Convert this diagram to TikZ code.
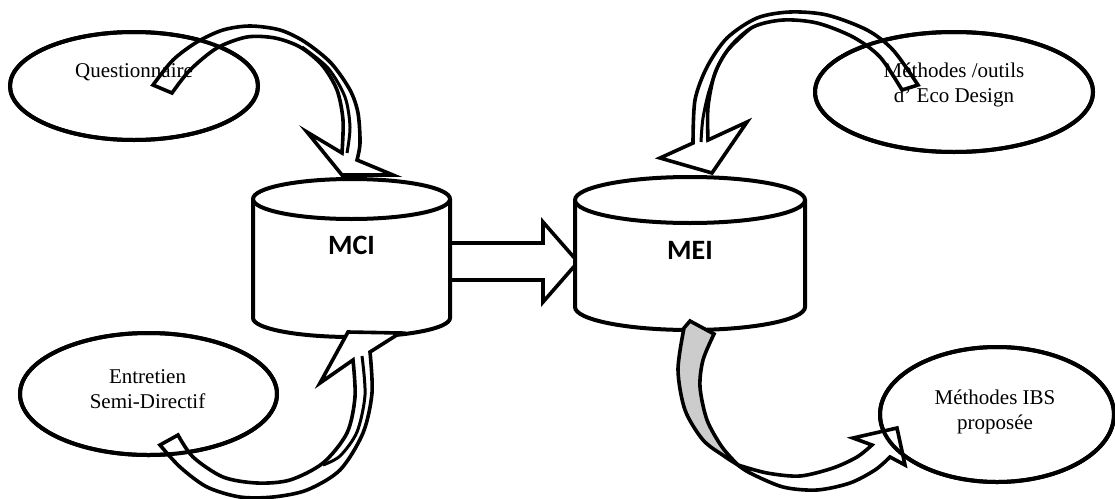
\documentclass[tikz,border=0pt]{standalone}
\usepackage{fontspec}
\setmainfont{Liberation Serif}
\newfontfamily\calibri{Carlito}
\usetikzlibrary{shapes.geometric}
\begin{document}
\begin{tikzpicture}[x=1pt,y=1pt,
  bub/.style={ellipse, draw, line width=4pt, fill=white, inner sep=0pt},
  rim/.style={line width=4pt},
  lbl/.style={font=\fontsize{21}{25}\selectfont, align=center, inner sep=0pt},
  cyltxt/.style={font=\calibri\bfseries\fontsize{28}{30}\selectfont, inner sep=0pt},
  cylbody/.style={draw, fill=white, line width=4pt},
  blk/.style={draw, line width=3.6pt, fill=white, line join=miter},
  graypart/.style={draw, line width=3.6pt, fill=gray!40, line join=miter},
  crease/.style={draw, line width=3pt}]
\useasboundingbox (0,0) rectangle (1115,-498);

% ellipses
\node[bub, minimum width=248pt, minimum height=108pt] (quest) at (134,-86) {};
\node[bub, minimum width=257pt, minimum height=122pt] (entre) at (148.5,-394) {};
\node[bub, minimum width=278pt, minimum height=120pt] (eco) at (954,-92) {};
\node[bub, minimum width=234pt, minimum height=135pt] (ibs) at (997,-414.5) {};

% straight block arrow MCI -> MEI
\draw[blk] (450,-243) -- (543,-243) -- (543,-222) -- (578,-262) -- (543,-302) -- (543,-280) -- (450,-280) -- cycle;

% cylinders
\draw[cylbody] (253,-199) -- (253,-318) arc[start angle=180, end angle=360, x radius=98.5, y radius=19] -- (450,-199);
\draw[cylbody] (351.5,-199) ellipse[x radius=98.5, y radius=20];
\node[cyltxt] (mci) at (351.5,-245) {MCI};

\draw[cylbody] (575,-200) -- (575,-307) arc[start angle=180, end angle=360, x radius=115, y radius=23] -- (805,-200);
\draw[cylbody] (690,-200) ellipse[x radius=115, y radius=23];
\node[cyltxt] (mei) at (690,-250) {MEI};

% curved arrow: Questionnaire -> MCI
\draw[blk] (153,-85) -- (172,-93)
  -- plot[smooth] coordinates {(172,-93) (190,-70) (217,-48) (247,-37) (275,-38) (300,-47) (322,-65) (337,-90) (343,-120) (342,-153)}
  -- (307,-132) -- (342,-175) -- (393,-175) -- (357,-160)
  -- plot[smooth] coordinates {(357,-160) (360,-143) (358,-113) (350,-90) (331,-63) (305,-42) (280,-30) (250,-26) (223,-30) (197,-42) (173,-60) (153,-85)}
  -- cycle;
\draw[crease] plot[smooth] coordinates {(302,-47) (328,-68) (345,-97) (350,-127) (347,-153)};

% curved arrow: Eco Design -> MEI
\draw[blk] (918,-85) -- (902,-90)
  -- plot[smooth] coordinates {(902,-90) (880,-57) (853,-37) (817,-23) (783,-20) (753,-27) (730,-47) (715,-73) (708,-107) (708,-140)}
  -- (747,-122) -- (712,-173) -- (660,-158) -- (693,-143)
  -- plot[smooth] coordinates {(693,-143) (695,-100) (707,-67) (727,-38) (757,-18) (790,-12) (827,-15) (867,-30) (893,-50) (918,-85)}
  -- cycle;
\draw[crease] plot[smooth] coordinates {(750,-29) (724,-55) (710,-88) (703,-118) (701,-142)};

% curved arrow: Entretien -> MCI
\draw[blk] (160,-445) -- (178,-435)
  -- plot[smooth] coordinates {(178,-435) (193,-457) (223,-477) (257,-483) (290,-480) (323,-463) (347,-433) (355,-397) (353,-360)}
  -- (320,-383) -- (348,-332) -- (400,-333) -- (370,-352)
  -- plot[smooth] coordinates {(370,-352) (372,-393) (363,-433) (340,-470) (307,-490) (273,-497) (240,-497) (207,-487) (180,-467) (160,-445)}
  -- cycle;
\draw[crease] plot[smooth] coordinates {(362,-356) (365,-395) (357,-432) (340,-456) (323,-465)};

% gray curved arrow: MEI -> IBS
\draw[graypart] (684,-328) -- (690,-321) -- (714,-334)
  -- plot[smooth] coordinates {(714,-334) (703,-360) (700,-387) (707,-420) (722,-447) (738,-465)}
  -- plot[smooth] coordinates {(738,-465) (724,-456) (703,-440) (685,-410) (678,-370) (684,-328)}
  -- cycle;
\draw[blk] (738,-465)
  -- plot[smooth] coordinates {(738,-465) (750,-473) (783,-487) (817,-490) (850,-483) (875,-470) (890,-457)}
  -- (905,-465) -- (897,-428) -- (853,-438) -- (872,-445)
  -- plot[smooth] coordinates {(872,-445) (857,-457) (833,-468) (800,-476) (767,-473) (738,-465)}
  -- cycle;

% ellipse outlines on top
\draw[rim] (quest.center) ellipse[x radius=124, y radius=54];
\draw[rim] (entre.center) ellipse[x radius=128.5, y radius=61];
\draw[rim] (eco.center) ellipse[x radius=139, y radius=60];
\draw[rim] (ibs.center) ellipse[x radius=117, y radius=67.5];

% labels on top
\node[lbl] (tquest) at (134,-72) {Questionnaire};
\node[lbl] (tentre) at (147.5,-389.5) {Entretien\\Semi-Directif};
\node[lbl] (teco) at (954,-84.5) {Méthodes /outils\\d’ Eco Design};
\node[lbl] (tibs) at (995,-411.5) {Méthodes IBS\\proposée};
\end{tikzpicture}
\end{document}
